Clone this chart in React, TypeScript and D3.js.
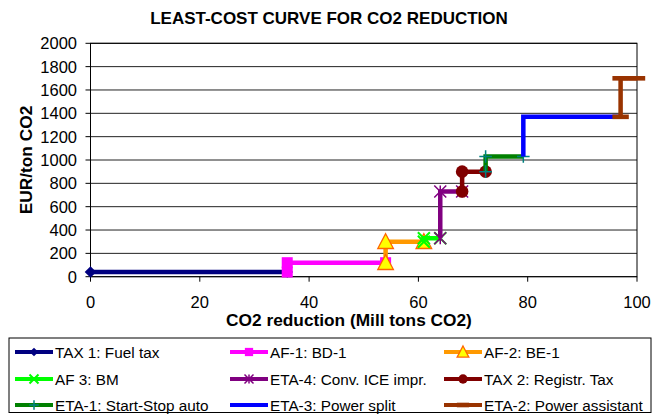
import React from "react";
import * as d3 from "d3";

const seriesNames = [
  "TAX 1: Fuel tax",
  "AF-1: BD-1",
  "AF-2: BE-1",
  "AF 3: BM",
  "ETA-4: Conv. ICE impr.",
  "TAX 2: Registr. Tax",
  "ETA-1: Start-Stop auto",
  "ETA-3: Power split",
  "ETA-2: Power assistant",
];
const seriesX = [
  [0, 36],
  [36, 36, 54],
  [54, 54, 61],
  [61, 61, 64],
  [64, 64, 68],
  [68, 68, 72.3],
  [72.3, 72.3, 79.2],
  [79.2, 79.2, 97],
  [97, 97, 100],
];
const seriesY = [
  [40, 40],
  [40, 120, 120],
  [120, 300, 300],
  [300, 330, 330],
  [330, 730, 730],
  [730, 900, 900],
  [900, 1030, 1030],
  [1030, 1370, 1370],
  [1370, 1700, 1700],
];
const seriesColors = ["#000080", "#FF00FF", "#FF9900", "#00FF00", "#800080", "#800000", "#008000", "#0000FF", "#993300"];
const seriesMarkers = ["diamond", "square", "triangle", "x", "asterisk", "circle", "plus", "none", "dash"];
const xTicks = [0, 20, 40, 60, 80, 100];
const yTicks = [0, 200, 400, 600, 800, 1000, 1200, 1400, 1600, 1800, 2000];

const FONT = "'Liberation Sans', Arial, sans-serif";

function Marker({ kind, cx, cy, s = 1 }: { kind: string; cx: number; cy: number; s?: number }) {
  switch (kind) {
    case "diamond": {
      const r = 5.8 * s;
      return <path d={`M${cx},${cy - r}L${cx + r},${cy}L${cx},${cy + r}L${cx - r},${cy}Z`} fill="#000080" />;
    }
    case "square": {
      const r = 5.5 * s;
      return <rect x={cx - r} y={cy - r} width={2 * r} height={2 * r} fill="#FF00FF" />;
    }
    case "triangle": {
      const hw = 7.8 * s;
      return (
        <path
          d={`M${cx},${cy - 8 * s}L${cx + hw},${cy + 6.8 * s}L${cx - hw},${cy + 6.8 * s}Z`}
          fill="#FFFF00"
          stroke="#FF6600"
          strokeWidth={1.3}
          strokeLinejoin="miter"
        />
      );
    }
    case "x": {
      const r = 6 * s;
      return (
        <path d={`M${cx - r},${cy - r}L${cx + r},${cy + r}M${cx - r},${cy + r}L${cx + r},${cy - r}`} stroke="#00FF00" strokeWidth={2} />
      );
    }
    case "asterisk": {
      const r = 6 * s;
      return (
        <path
          d={`M${cx - r},${cy - r}L${cx + r},${cy + r}M${cx - r},${cy + r}L${cx + r},${cy - r}M${cx},${cy - r}L${cx},${cy + r}`}
          stroke="#800080"
          strokeWidth={1.5}
        />
      );
    }
    case "circle":
      return <circle cx={cx} cy={cy} r={6.3 * s} fill="#800000" />;
    case "plus": {
      const r = 6.3 * s;
      return <path d={`M${cx - r},${cy}L${cx + r},${cy}M${cx},${cy - r}L${cx},${cy + r}`} stroke="#008080" strokeWidth={1.5} />;
    }
    case "dash": {
      const hw = 8.2 * s;
      return <rect x={cx - hw} y={cy - 2.3} width={2 * hw} height={4.6} fill="#993300" />;
    }
    default:
      return null;
  }
}

export default function App() {
  const W = 656;
  const H = 414;
  const x = d3.scaleLinear().domain([0, 100]).range([90.5, 637]);
  const y = d3.scaleLinear().domain([0, 2000]).range([276.7, 43.3]);
  const line = d3
    .line<[number, number]>()
    .x((d) => x(d[0]))
    .y((d) => y(d[1]));

  const legendCols = [15, 230, 444];
  const legendRows = [352, 379, 405];

  return (
    <svg width={W} height={H} style={{ position: "absolute", left: 0, top: 0, background: "#fff" }} fontFamily={FONT}>
      <rect x={0} y={0} width={W} height={H} fill="#fff" />
      <text x={329} y={24} textAnchor="middle" fontWeight="bold" fontSize={17}>
        LEAST-COST CURVE FOR CO2 REDUCTION
      </text>

      {/* gridlines */}
      {yTicks.map((t) => (
        <line key={"g" + t} x1={x(0)} x2={x(100)} y1={y(t)} y2={y(t)} stroke="#222" strokeWidth={1} />
      ))}
      {/* frame */}
      <rect x={x(0)} y={y(2000)} width={x(100) - x(0)} height={y(0) - y(2000)} fill="none" stroke="#000" strokeWidth={1} />

      {/* y ticks */}
      {yTicks.map((t) => (
        <g key={"yt" + t}>
          <line x1={x(0) - 5} x2={x(0)} y1={y(t)} y2={y(t)} stroke="#000" />
          <text x={77} y={y(t)} dy="0.36em" textAnchor="end" fontSize={16.5}>
            {t}
          </text>
        </g>
      ))}
      {/* x ticks */}
      {xTicks.map((t) => (
        <g key={"xt" + t}>
          <line x1={x(t)} x2={x(t)} y1={y(0)} y2={y(0) + 5} stroke="#000" />
          <text x={x(t)} y={307.5} textAnchor="middle" fontSize={16.5}>
            {t}
          </text>
        </g>
      ))}

      <text x={349} y={326} textAnchor="middle" fontWeight="bold" fontSize={17.3}>
        CO2 reduction (Mill tons CO2)
      </text>
      <text transform="translate(32,160) rotate(-90)" textAnchor="middle" fontWeight="bold" fontSize={17.3}>
        EUR/ton CO2
      </text>

      {/* series */}
      {seriesNames.map((name, i) => {
        const pts = seriesX[i].map((v, j) => [v, seriesY[i][j]] as [number, number]);
        return (
          <g key={name}>
            <path d={line(pts) || ""} fill="none" stroke={seriesColors[i]} strokeWidth={4.5} strokeLinejoin="miter" />
            {pts.map((p, j) => (
              <Marker key={j} kind={seriesMarkers[i]} cx={x(p[0])} cy={y(p[1])} />
            ))}
          </g>
        );
      })}

      {/* legend */}
      <rect x={9} y={338} width={642} height={74.5} fill="#fff" stroke="#000" strokeWidth={1} />
      {seriesNames.map((name, i) => {
        const cx0 = legendCols[i % 3];
        const cy = legendRows[Math.floor(i / 3)];
        return (
          <g key={"lg" + name}>
            <line x1={cx0} x2={cx0 + 38} y1={cy} y2={cy} stroke={seriesColors[i]} strokeWidth={4} />
            <Marker kind={seriesMarkers[i]} cx={cx0 + 19} cy={cy} s={0.75} />
            <text x={cx0 + 40} y={cy} dy="0.36em" fontSize={15.3}>
              {name}
            </text>
          </g>
        );
      })}
    </svg>
  );
}
